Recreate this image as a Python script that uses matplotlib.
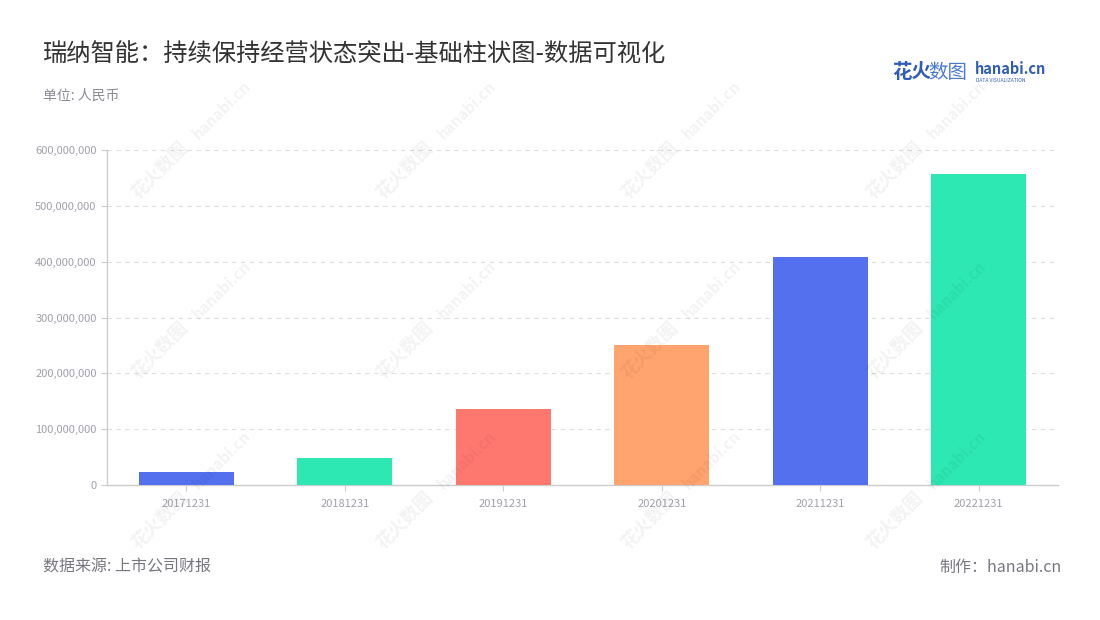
import matplotlib
matplotlib.use('Agg')
import matplotlib.pyplot as plt
from matplotlib.ticker import FuncFormatter

plt.rcParams['font.family'] = ['Noto Sans CJK SC', 'DejaVu Sans']

dates = ['20171231', '20181231', '20191231', '20201231', '20211231', '20221231']
values = [22_500_000, 48_000_000, 136_000_000, 251_000_000, 408_000_000, 557_000_000]
colors = ['#5470EF', '#2DE8B3', '#FF7870', '#FFA36F', '#5470EF', '#2DE8B3']

fig = plt.figure(figsize=(11, 6.2), dpi=100)
ax = fig.add_axes([107 / 1100, 135 / 620, (1058 - 107) / 1100, 335 / 620])

ax.bar(range(len(dates)), values, width=0.6, color=colors, zorder=3)
ax.set_xlim(-0.5, len(dates) - 0.5)
ax.set_ylim(0, 600_000_000)
ax.set_yticks(range(0, 600_000_001, 100_000_000))
ax.yaxis.set_major_formatter(FuncFormatter(lambda v, p: f'{int(v):,}'))
ax.set_xticks(range(len(dates)))
ax.set_xticklabels(dates)

ax.grid(axis='y', color='#e0e0e0', linestyle=(0, (4, 4)), linewidth=0.8, zorder=0)
for s in ['top', 'right']:
    ax.spines[s].set_visible(False)
for s in ['left', 'bottom']:
    ax.spines[s].set_color('#cccccc')
    ax.spines[s].set_linewidth(1.0)
ax.tick_params(axis='both', colors='#cccccc', labelcolor='#a0a0ab', labelsize=8, length=4)
ax.tick_params(axis='x', pad=6)

# watermark
for wx in [160, 405, 650, 895]:
    for wy in [170, 350, 520]:
        fig.text(wx / 1100, 1 - wy / 620, '花火数图', rotation=45, fontsize=13,
                 color='#000000', alpha=0.05, ha='center', va='center', fontweight='bold')
        fig.text((wx + 62) / 1100, 1 - (wy - 60) / 620, 'hanabi.cn', rotation=45, fontsize=11,
                 color='#000000', alpha=0.05, ha='center', va='center', fontweight='bold')

fig.text(43 / 1100, 1 - 55 / 620, '瑞纳智能：持续保持经营状态突出-基础柱状图-数据可视化',
         fontsize=17.5, color='#333333', va='center')
fig.text(43 / 1100, 1 - 96 / 620, '单位: 人民币', fontsize=10, color='#8a8a95', va='center')
fig.text(43 / 1100, 1 - 567 / 620, '数据来源: 上市公司财报', fontsize=11.5, color='#777780', va='center')
fig.text(1062 / 1100, 1 - 567 / 620, '制作：hanabi.cn', fontsize=11.5, color='#777780',
         va='center', ha='right')

# logo
fig.text(892 / 1100, 1 - 72 / 620, '花火', fontsize=14, color='#2F5DB8', fontweight='bold', va='center')
fig.text(928 / 1100, 1 - 72 / 620, '数图', fontsize=14, color='#4A7AD0', va='center')
fig.text(975 / 1100, 1 - 69 / 620, 'hanabi.cn', fontsize=10.5, color='#2F5DB8', fontweight='bold', va='center')
fig.text(976 / 1100, 1 - 80 / 620, 'DATA VISUALIZATION', fontsize=3.6, color='#2F5DB8', va='center')

fig.savefig('out.png', dpi=100, facecolor='white')
